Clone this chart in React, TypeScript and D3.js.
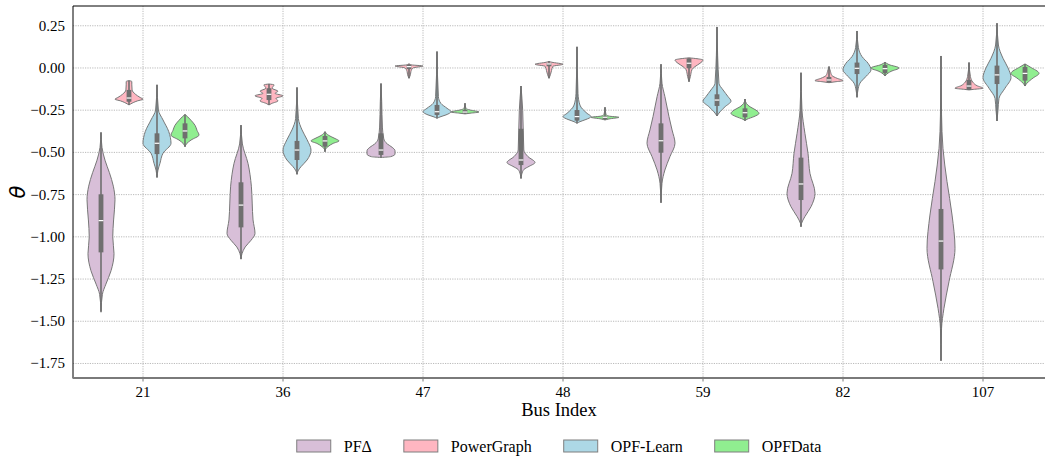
import React, { useEffect, useRef } from 'react';
import * as d3 from 'd3';

// bus indices on the x axis
const buses = ['21', '36', '47', '48', '59', '82', '107'];
const seriesNames = ['PFΔ', 'PowerGraph', 'OPF-Learn', 'OPFData'];
const seriesColors = ['#d8bfd8', '#ffb6c1', '#add8e6', '#90ee90'];
const yTicks = [0.25, 0, -0.25, -0.5, -0.75, -1.0, -1.25, -1.5, -1.75];

// box stats per bus: [low whisker, q1, median, q3, high whisker]
const pfdStats = [
  [-1.447, -1.092, -0.904, -0.748, -0.383],
  [-1.133, -0.944, -0.812, -0.677, -0.338],
  [-0.53, -0.515, -0.486, -0.387, -0.095],
  [-0.654, -0.575, -0.545, -0.36, -0.107],
  [-0.798, -0.502, -0.431, -0.328, 0.022],
  [-0.94, -0.782, -0.687, -0.531, -0.028],
  [-1.734, -1.193, -1.025, -0.835, 0.071],
];
const pgStats = [
  [-0.219, -0.2, -0.178, -0.13, -0.075],
  [-0.219, -0.19, -0.156, -0.12, -0.095],
  [-0.061, -0.007, 0.008, 0.018, 0.024],
  [-0.061, 0.01, 0.024, 0.03, 0.037],
  [-0.081, -0.002, 0.028, 0.057, 0.057],
  [-0.085, -0.085, -0.071, -0.053, 0.008],
  [-0.13, -0.13, -0.107, -0.07, 0.032],
];
const learnStats = [
  [-0.648, -0.51, -0.446, -0.387, -0.1],
  [-0.63, -0.545, -0.486, -0.432, -0.115],
  [-0.298, -0.278, -0.259, -0.219, 0.097],
  [-0.328, -0.312, -0.288, -0.249, 0.125],
  [-0.284, -0.225, -0.19, -0.156, 0.243],
  [-0.174, -0.036, -0.002, 0.032, 0.219],
  [-0.314, -0.095, -0.041, 0.014, 0.265],
];
const opfdStats = [
  [-0.466, -0.417, -0.373, -0.328, -0.275],
  [-0.496, -0.466, -0.432, -0.403, -0.377],
  [-0.272, -0.268, -0.261, -0.249, -0.209],
  [-0.308, -0.302, -0.292, -0.285, -0.233],
  [-0.312, -0.292, -0.265, -0.239, -0.184],
  [-0.047, -0.03, -0.004, 0.018, 0.034],
  [-0.107, -0.075, -0.032, 0.006, 0.024],
];

// violin outlines per bus: [theta, relative density]
const pfdShape = [
  [[-0.38, 0], [-0.47, 0.07], [-0.55, 0.3], [-0.62, 0.6], [-0.7, 0.88], [-0.78, 1.0], [-0.9, 0.9], [-1.0, 0.84], [-1.1, 0.93], [-1.2, 0.72], [-1.28, 0.35], [-1.34, 0.1], [-1.44, 0]],
  [[-0.34, 0], [-0.45, 0.1], [-0.565, 0.5], [-0.7, 0.74], [-0.8, 0.8], [-0.9, 0.86], [-0.98, 1.0], [-1.02, 0.72], [-1.06, 0.3], [-1.1, 0.07], [-1.13, 0]],
  [[-0.09, 0], [-0.2, 0.05], [-0.35, 0.1], [-0.42, 0.2], [-0.45, 0.45], [-0.47, 0.8], [-0.49, 1.0], [-0.51, 1.0], [-0.525, 0.7], [-0.53, 0]],
  [[-0.107, 0], [-0.25, 0.12], [-0.486, 0.2], [-0.525, 0.5], [-0.56, 1.0], [-0.583, 0.57], [-0.6, 0.22], [-0.63, 0.05], [-0.654, 0]],
  [[0.022, 0], [-0.09, 0.07], [-0.17, 0.28], [-0.288, 0.57], [-0.367, 0.79], [-0.446, 1.0], [-0.525, 0.64], [-0.604, 0.28], [-0.683, 0.07], [-0.798, 0]],
  [[-0.028, 0], [-0.25, 0.07], [-0.387, 0.28], [-0.505, 0.5], [-0.624, 0.64], [-0.742, 1.0], [-0.821, 0.72], [-0.88, 0.28], [-0.92, 0.04], [-0.94, 0]],
  [[0.071, 0], [-0.278, 0.04], [-0.476, 0.14], [-0.673, 0.43], [-0.871, 0.79], [-1.068, 1.0], [-1.266, 0.57], [-1.424, 0.21], [-1.542, 0.04], [-1.734, 0]],
];
const pgShape = [
  [[-0.075, 0], [-0.08, 0.2], [-0.1, 0.2], [-0.13, 0.22], [-0.155, 0.45], [-0.175, 0.8], [-0.185, 1.0], [-0.195, 0.6], [-0.205, 0.3], [-0.219, 0]],
  [[-0.095, 0], [-0.1, 0.36], [-0.12, 0.22], [-0.138, 0.64], [-0.15, 0.43], [-0.165, 1.0], [-0.18, 0.5], [-0.195, 0.64], [-0.21, 0.2], [-0.219, 0]],
  [[0.026, 0], [0.018, 0.2], [0.012, 1.0], [0.0, 0.28], [-0.02, 0.14], [-0.04, 0.1], [-0.061, 0]],
  [[0.039, 0], [0.034, 0.2], [0.022, 1.0], [0.01, 0.28], [-0.015, 0.18], [-0.04, 0.1], [-0.061, 0]],
  [[0.06, 0], [0.055, 0.57], [0.047, 1.0], [0.028, 0.79], [0.008, 0.43], [-0.01, 0.21], [-0.05, 0.1], [-0.081, 0]],
  [[0.008, 0], [-0.02, 0.1], [-0.045, 0.21], [-0.061, 0.57], [-0.075, 1.0], [-0.082, 0.43], [-0.087, 0]],
  [[0.032, 0], [-0.05, 0.1], [-0.085, 0.28], [-0.105, 0.57], [-0.12, 1.0], [-0.127, 0.3], [-0.13, 0]],
];
const learnShape = [
  [[-0.1, 0], [-0.249, 0.1], [-0.308, 0.43], [-0.377, 0.84], [-0.446, 1.0], [-0.505, 0.43], [-0.565, 0.21], [-0.605, 0.07], [-0.648, 0]],
  [[-0.115, 0], [-0.3, 0.1], [-0.367, 0.36], [-0.425, 0.72], [-0.486, 1.0], [-0.545, 0.72], [-0.585, 0.28], [-0.61, 0.07], [-0.63, 0]],
  [[0.097, 0], [-0.17, 0.1], [-0.21, 0.28], [-0.239, 0.72], [-0.259, 1.0], [-0.278, 0.64], [-0.29, 0.21], [-0.298, 0]],
  [[0.125, 0], [-0.15, 0.07], [-0.22, 0.21], [-0.269, 0.72], [-0.288, 1.0], [-0.305, 0.64], [-0.318, 0.21], [-0.328, 0]],
  [[0.243, 0], [-0.091, 0.14], [-0.13, 0.43], [-0.17, 0.79], [-0.196, 1.0], [-0.23, 0.57], [-0.26, 0.21], [-0.284, 0]],
  [[0.219, 0], [0.12, 0.1], [0.067, 0.36], [0.028, 0.79], [-0.012, 1.0], [-0.05, 0.64], [-0.09, 0.21], [-0.13, 0.07], [-0.174, 0]],
  [[0.265, 0], [0.136, 0.1], [0.057, 0.43], [0.0, 0.79], [-0.057, 1.0], [-0.12, 0.57], [-0.18, 0.14], [-0.25, 0.07], [-0.314, 0]],
];
const opfdShape = [
  [[-0.275, 0], [-0.29, 0.2], [-0.31, 0.43], [-0.34, 0.72], [-0.37, 0.86], [-0.397, 1.0], [-0.427, 0.43], [-0.446, 0.14], [-0.466, 0]],
  [[-0.377, 0], [-0.4, 0.28], [-0.418, 0.72], [-0.432, 1.0], [-0.447, 0.57], [-0.466, 0.21], [-0.48, 0.04], [-0.496, 0]],
  [[-0.209, 0], [-0.24, 0.07], [-0.249, 0.36], [-0.261, 1.0], [-0.268, 0.36], [-0.272, 0]],
  [[-0.233, 0], [-0.275, 0.07], [-0.285, 0.28], [-0.292, 1.0], [-0.302, 0.28], [-0.308, 0]],
  [[-0.184, 0], [-0.21, 0.1], [-0.23, 0.36], [-0.25, 0.79], [-0.269, 1.0], [-0.288, 0.64], [-0.304, 0.14], [-0.312, 0]],
  [[0.034, 0], [0.02, 0.28], [0.0, 1.0], [-0.02, 0.43], [-0.04, 0.07], [-0.047, 0]],
  [[0.024, 0], [0.006, 0.36], [-0.032, 1.0], [-0.06, 0.57], [-0.09, 0.14], [-0.107, 0]],
];

const allStats = [pfdStats, pgStats, learnStats, opfdStats];
const allShapes = [pfdShape, pgShape, learnShape, opfdShape];

const W = 1045;
const H = 459;
const FONT = '"Liberation Serif", "Times New Roman", serif';

export default function App() {
  const svgRef = useRef(null);

  useEffect(() => {
    const svg = d3.select(svgRef.current);
    svg.selectAll('*').remove();

    const left = 73, top = 6, bottom = 378;
    const x = d3.scaleBand().domain(buses).range([left, left + 140 * buses.length]);
    const hue = d3.scaleBand().domain(seriesNames).range([-0.4 * x.bandwidth(), 0.4 * x.bandwidth()]);
    const y = d3.scaleLinear().domain([-1.836, 0.367]).range([bottom, top]);
    const half = hue.bandwidth() / 2;
    const midX = (x.range()[0] + x.range()[1]) / 2;

    // grid
    const grid = svg.append('g');
    grid.selectAll('line.h').data(yTicks).join('line')
      .attr('x1', left).attr('x2', W)
      .attr('y1', d => y(d)).attr('y2', d => y(d))
      .attr('stroke', '#a8a8a8').attr('stroke-width', 0.8).attr('stroke-dasharray', '1.2,1.2');
    grid.selectAll('line.v').data(buses).join('line')
      .attr('x1', d => x(d) + x.bandwidth() / 2).attr('x2', d => x(d) + x.bandwidth() / 2)
      .attr('y1', top).attr('y2', bottom)
      .attr('stroke', '#a8a8a8').attr('stroke-width', 0.8).attr('stroke-dasharray', '1.2,1.2');

    const area = d3.area()
      .curve(d3.curveMonotoneY)
      .y(d => y(d[0]));

    const plot = svg.append('g');
    seriesNames.forEach((s, si) => {
      buses.forEach((b, bi) => {
        const cx = x(b) + x.bandwidth() / 2 + hue(s) + half;
        const shape = allShapes[si][bi];
        const [lo, q1, med, q3, hi] = allStats[si][bi];
        plot.append('path')
          .attr('d', area.x0(d => cx - d[1] * half).x1(d => cx + d[1] * half)(shape))
          .attr('fill', seriesColors[si])
          .attr('stroke', '#777777')
          .attr('stroke-width', 1);
        plot.append('line')
          .attr('x1', cx).attr('x2', cx).attr('y1', y(hi)).attr('y2', y(lo))
          .attr('stroke', '#6f6f6f').attr('stroke-width', 1.6);
        plot.append('rect')
          .attr('x', cx - 2.4).attr('width', 4.8)
          .attr('y', y(q3)).attr('height', Math.max(1, y(q1) - y(q3)))
          .attr('fill', '#6f6f6f');
        plot.append('line')
          .attr('x1', cx - 2.4).attr('x2', cx + 2.4).attr('y1', y(med)).attr('y2', y(med))
          .attr('stroke', '#ffffff').attr('stroke-width', 1.2);
      });
    });

    // spines
    svg.append('line').attr('x1', left).attr('x2', W).attr('y1', top).attr('y2', top)
      .attr('stroke', '#000').attr('stroke-width', 1);
    svg.append('line').attr('x1', left).attr('x2', left).attr('y1', top).attr('y2', bottom)
      .attr('stroke', '#000').attr('stroke-width', 1);
    svg.append('line').attr('x1', left - 0.5).attr('x2', W).attr('y1', bottom).attr('y2', bottom)
      .attr('stroke', '#7a7a7a').attr('stroke-width', 2);

    // x ticks
    const xt = svg.append('g');
    buses.forEach(b => {
      const cx = x(b) + x.bandwidth() / 2;
      xt.append('line').attr('x1', cx).attr('x2', cx).attr('y1', bottom).attr('y2', bottom + 3.5)
        .attr('stroke', '#7a7a7a').attr('stroke-width', 1);
      xt.append('text').attr('x', cx).attr('y', bottom + 19)
        .attr('text-anchor', 'middle').attr('font-family', FONT).attr('font-size', 15)
        .text(b);
    });

    // y ticks
    const fmt = d3.format('.2f');
    yTicks.forEach(t => {
      svg.append('text').attr('x', left - 8).attr('y', y(t) + 5)
        .attr('text-anchor', 'end').attr('font-family', FONT).attr('font-size', 15)
        .text(fmt(t));
    });

    svg.append('text').attr('x', midX - 4).attr('y', 416)
      .attr('text-anchor', 'middle').attr('font-family', FONT).attr('font-size', 18.5)
      .text('Bus Index');
    svg.append('text')
      .attr('transform', `translate(25, ${(top + bottom) / 2}) rotate(-90)`)
      .attr('text-anchor', 'middle').attr('font-family', '"DejaVu Sans", sans-serif')
      .attr('font-style', 'italic').attr('font-size', 21)
      .text('θ');

    // legend
    const leg = svg.append('g');
    let cursor = 0;
    seriesNames.forEach((s, i) => {
      const g = leg.append('g').attr('transform', `translate(${cursor},0)`);
      g.append('rect').attr('x', 0).attr('y', 440).attr('width', 34).attr('height', 12)
        .attr('fill', seriesColors[i]).attr('stroke', '#7f7f7f').attr('stroke-width', 1);
      const t = g.append('text').attr('x', 47).attr('y', 451.5)
        .attr('font-family', FONT).attr('font-size', 16).text(s);
      const tw = (t.node() as SVGTextElement).getComputedTextLength();
      cursor += 47 + tw + (i < seriesNames.length - 1 ? 32 : 0);
    });
    leg.attr('transform', `translate(${559 - cursor / 2},0)`);
  }, []);

  return (
    <svg ref={svgRef} width={W} height={H}
      style={{ position: 'absolute', left: 0, top: 0, background: '#fff' }} />
  );
}
